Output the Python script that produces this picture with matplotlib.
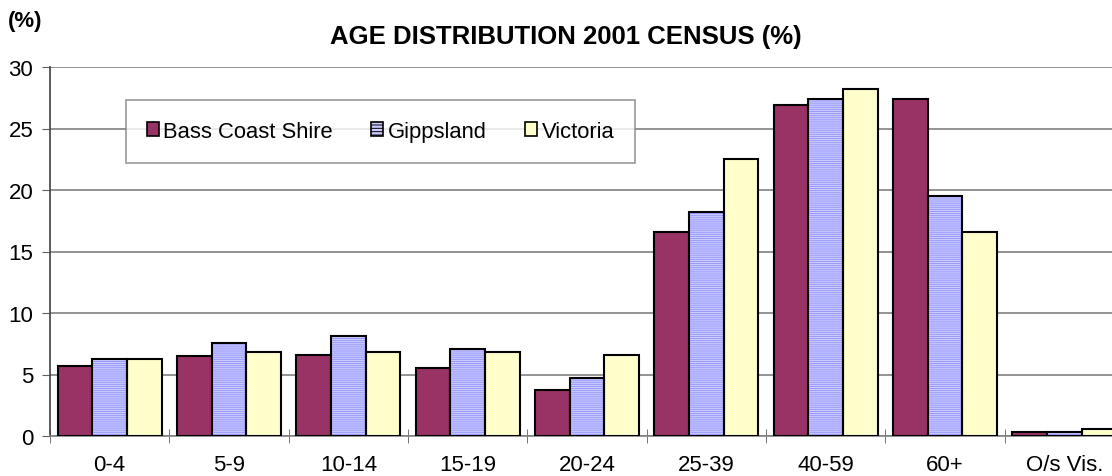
import numpy as np
import matplotlib.pyplot as plt
from matplotlib.patches import Patch

plt.rcParams['font.family'] = ['Liberation Sans', 'DejaVu Sans']
plt.rcParams['hatch.linewidth'] = 0.7

categories = ['0-4', '5-9', '10-14', '15-19', '20-24', '25-39', '40-59', '60+', 'O/s Vis.']
bass_coast = [5.7, 6.5, 6.6, 5.5, 3.7, 16.6, 26.9, 27.4, 0.3]
gippsland = [6.3, 7.6, 8.1, 7.1, 4.7, 18.2, 27.4, 19.5, 0.3]
victoria = [6.3, 6.8, 6.8, 6.8, 6.6, 22.5, 28.2, 16.6, 0.6]
series = ['Bass Coast Shire', 'Gippsland', 'Victoria']

bass_col = '#993366'
gipp_col = '#CCCCFF'
gipp_hatch = '#9999FF'
vic_col = '#FFFFCC'

fig = plt.figure(figsize=(11.12, 4.77), dpi=100)
ax = fig.add_axes([50/1112, 1-437/477, 1074/1112, 369/477])

x = np.arange(len(categories))
w = 0.29
ax.bar(x - w, bass_coast, w, color=bass_col, edgecolor='black', linewidth=1.5, zorder=3)
# gippsland: hatched fill, then black outline on top
ax.bar(x, gippsland, w, color=gipp_col, edgecolor=gipp_hatch, hatch='--------', linewidth=0, zorder=3)
ax.bar(x, gippsland, w, fill=False, edgecolor='black', linewidth=1.5, zorder=4)
ax.bar(x + w, victoria, w, color=vic_col, edgecolor='black', linewidth=1.5, zorder=3)

ax.set_xlim(-0.5, len(categories) - 0.5)
ax.set_ylim(0, 30)
ax.set_yticks(range(0, 31, 5))
ax.yaxis.grid(True, color='#808080', linewidth=1.2, zorder=0)

ax.set_xticks(x)
ax.set_xticklabels(categories)
ax.set_xticks(np.arange(-0.5, len(categories), 1), minor=True)
ax.tick_params(axis='x', which='major', length=0, pad=13, labelsize=16)
ax.tick_params(axis='x', which='minor', length=10, direction='inout', color='#606060')
ax.tick_params(axis='y', length=6, color='#606060', labelsize=16, pad=6)

for s in ['top', 'right']:
    ax.spines[s].set_visible(False)
ax.spines['left'].set_color('#404040')
ax.spines['bottom'].set_color('#808080')
ax.spines['left'].set_linewidth(1.2)
ax.spines['bottom'].set_linewidth(1.2)

handles = [Patch(facecolor=bass_col, edgecolor='black', linewidth=1.2),
           Patch(facecolor=gipp_col, edgecolor='black', linewidth=1.2, hatch='-----'),
           Patch(facecolor=vic_col, edgecolor='black', linewidth=1.2)]
leg = ax.legend(handles, series, ncol=3, loc='upper left', bbox_to_anchor=(0.0708, 0.911),
                borderaxespad=0, fontsize=15.8, frameon=True, fancybox=False,
                borderpad=0.95, handlelength=0.55, handleheight=0.55, handletextpad=0.2,
                columnspacing=1.75)
leg.get_frame().set_edgecolor('#808080')
leg.get_frame().set_linewidth(1.2)
leg.set_zorder(5)

fig.text(0.509, 1-37/477, 'AGE DISTRIBUTION 2001 CENSUS (%)', ha='center', va='center',
         fontsize=18.5, fontweight='bold')
fig.text(8/1112, 1-22/477, '(%)', ha='left', va='center', fontsize=16, fontweight='bold')

fig.savefig('out.png', dpi=100)
